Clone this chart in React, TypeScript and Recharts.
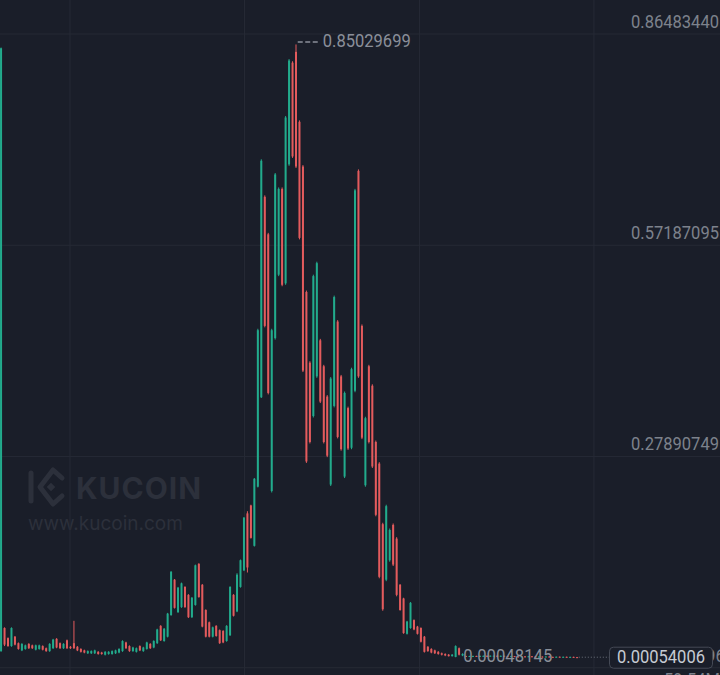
import React from 'react'
import { ComposedChart, Bar, XAxis, YAxis, CartesianGrid, ReferenceDot, ReferenceLine } from 'recharts'

// candles, oldest first
const openPrices = [
  0.009, 0.041, 0.027, 0.016, 0.029, 0.020, 0.010, 0.012, 0.019, 0.017,
  0.011, 0.012, 0.016, 0.013, 0.009, 0.013, 0.026, 0.020, 0.013, 0.024,
  0.015, 0.020, 0.015, 0.012, 0.010, 0.006, 0.006, 0.006, 0.008, 0.007,
  0.004, 0.005, 0.005, 0.006, 0.007, 0.009, 0.021, 0.016, 0.009, 0.008,
  0.016, 0.009, 0.012, 0.019, 0.014, 0.020, 0.044, 0.023, 0.029, 0.059,
  0.108, 0.063, 0.070, 0.098, 0.087, 0.056, 0.073, 0.130, 0.101, 0.066,
  0.049, 0.029, 0.044, 0.038, 0.037, 0.023, 0.031, 0.087, 0.064, 0.098,
  0.121, 0.200, 0.211, 0.155, 0.237, 0.361, 0.639, 0.587, 0.231, 0.443,
  0.531, 0.650, 0.519, 0.684, 0.825, 0.840, 0.743, 0.681, 0.507, 0.409,
  0.335, 0.390, 0.440, 0.404, 0.362, 0.240, 0.349, 0.466, 0.390, 0.251,
  0.346, 0.291, 0.370, 0.675, 0.460, 0.239, 0.404, 0.377, 0.299, 0.269,
  0.185, 0.108, 0.135, 0.184, 0.165, 0.101, 0.082, 0.033, 0.041, 0.052,
  0.043, 0.041, 0.029, 0.015, 0.012, 0.010, 0.008, 0.006, 0.005, 0.004,
  0.002, 0.0009, 0.013, 0.003, 0.0022, 0.0015, 0.0016, 0.0023, 0.0017, 0.0018,
  0.0025, 0.0019, 0.0020, 0.0026, 0.0020, 0.0025, 0.0019, 0.0014, 0.0020, 0.0015,
  0.0011, 0.0017, 0.0012, 0.0018, 0.0013, 0.0009, 0.0014, 0.0010, 0.0015, 0.0010,
  0.0007, 0.0012, 0.0008, 0.0011, 0.0007, 0.0010, 0.0006,
]
const closePrices = [
  0.845, 0.018, 0.016, 0.041, 0.018, 0.012, 0.019, 0.017, 0.013, 0.013,
  0.017, 0.017, 0.011, 0.009, 0.019, 0.025, 0.014, 0.013, 0.019, 0.013,
  0.013, 0.013, 0.010, 0.008, 0.007, 0.009, 0.009, 0.010, 0.005, 0.005,
  0.008, 0.008, 0.009, 0.010, 0.012, 0.023, 0.013, 0.009, 0.014, 0.013,
  0.010, 0.014, 0.021, 0.013, 0.023, 0.039, 0.024, 0.040, 0.061, 0.119,
  0.069, 0.097, 0.103, 0.070, 0.056, 0.083, 0.128, 0.084, 0.043, 0.029,
  0.029, 0.042, 0.030, 0.020, 0.021, 0.044, 0.098, 0.058, 0.115, 0.135,
  0.194, 0.125, 0.166, 0.248, 0.454, 0.689, 0.460, 0.367, 0.454, 0.670,
  0.650, 0.517, 0.749, 0.828, 0.695, 0.681, 0.582, 0.398, 0.272, 0.299,
  0.529, 0.547, 0.355, 0.299, 0.280, 0.387, 0.500, 0.306, 0.289, 0.367,
  0.290, 0.400, 0.648, 0.390, 0.305, 0.332, 0.299, 0.265, 0.198, 0.112,
  0.067, 0.210, 0.177, 0.129, 0.087, 0.066, 0.034, 0.050, 0.076, 0.039,
  0.033, 0.022, 0.008, 0.009, 0.007, 0.006, 0.005, 0.004, 0.003, 0.002,
  0.004, 0.016, 0.004, 0.005, 0.0016, 0.0022, 0.0023, 0.0017, 0.0024, 0.0025,
  0.0019, 0.0026, 0.0026, 0.0020, 0.0025, 0.0019, 0.0014, 0.0020, 0.0015, 0.0011,
  0.0017, 0.0012, 0.0018, 0.0013, 0.0009, 0.0014, 0.0010, 0.0015, 0.0010, 0.0007,
  0.0012, 0.0008, 0.0011, 0.0007, 0.0010, 0.0006, 0.00054006,
]
const highPrices = [
  0.846, 0.042, 0.028, 0.042, 0.030, 0.021, 0.020, 0.018, 0.020, 0.018,
  0.018, 0.018, 0.017, 0.014, 0.020, 0.026, 0.027, 0.021, 0.020, 0.025,
  0.016, 0.051, 0.016, 0.013, 0.011, 0.010, 0.010, 0.011, 0.009, 0.008,
  0.009, 0.009, 0.010, 0.011, 0.013, 0.024, 0.022, 0.017, 0.015, 0.014,
  0.017, 0.015, 0.022, 0.020, 0.024, 0.040, 0.045, 0.041, 0.062, 0.120,
  0.109, 0.098, 0.104, 0.099, 0.088, 0.084, 0.129, 0.131, 0.102, 0.067,
  0.050, 0.043, 0.045, 0.039, 0.038, 0.045, 0.099, 0.088, 0.117, 0.136,
  0.195, 0.203, 0.212, 0.249, 0.456, 0.691, 0.641, 0.589, 0.456, 0.672,
  0.652, 0.652, 0.751, 0.830, 0.827, 0.85029699, 0.745, 0.683, 0.509, 0.411,
  0.531, 0.549, 0.442, 0.406, 0.364, 0.389, 0.502, 0.468, 0.392, 0.369,
  0.348, 0.402, 0.650, 0.677, 0.462, 0.334, 0.406, 0.379, 0.301, 0.271,
  0.187, 0.212, 0.179, 0.186, 0.167, 0.102, 0.083, 0.051, 0.077, 0.053,
  0.044, 0.042, 0.030, 0.016, 0.013, 0.011, 0.009, 0.007, 0.006, 0.005,
  0.005, 0.017, 0.014, 0.006, 0.0025, 0.0025, 0.0026, 0.0026, 0.0027, 0.0028,
  0.0028, 0.0029, 0.0029, 0.0029, 0.0028, 0.0028, 0.0022, 0.0023, 0.0023, 0.0018,
  0.0020, 0.0020, 0.0021, 0.0021, 0.0016, 0.0017, 0.0017, 0.0018, 0.0018, 0.0013,
  0.0015, 0.0015, 0.0014, 0.0014, 0.0013, 0.0013, 0.0009,
]
const lowPrices = [
  0.008, 0.016, 0.015, 0.015, 0.017, 0.011, 0.009, 0.011, 0.012, 0.012,
  0.010, 0.011, 0.010, 0.008, 0.008, 0.012, 0.013, 0.012, 0.012, 0.012,
  0.012, 0.012, 0.009, 0.007, 0.006, 0.005, 0.005, 0.005, 0.004, 0.004,
  0.003, 0.004, 0.004, 0.005, 0.006, 0.008, 0.012, 0.008, 0.008, 0.007,
  0.009, 0.008, 0.011, 0.012, 0.013, 0.019, 0.023, 0.022, 0.028, 0.058,
  0.068, 0.062, 0.069, 0.069, 0.055, 0.055, 0.072, 0.083, 0.042, 0.028,
  0.028, 0.028, 0.029, 0.019, 0.020, 0.022, 0.030, 0.057, 0.063, 0.097,
  0.120, 0.118, 0.165, 0.154, 0.236, 0.360, 0.458, 0.365, 0.229, 0.441,
  0.529, 0.515, 0.517, 0.682, 0.693, 0.679, 0.580, 0.396, 0.270, 0.297,
  0.333, 0.388, 0.353, 0.297, 0.278, 0.238, 0.347, 0.304, 0.287, 0.249,
  0.288, 0.289, 0.368, 0.388, 0.303, 0.237, 0.297, 0.263, 0.196, 0.110,
  0.065, 0.106, 0.133, 0.127, 0.085, 0.065, 0.033, 0.032, 0.040, 0.038,
  0.032, 0.021, 0.007, 0.008, 0.006, 0.005, 0.004, 0.003, 0.002, 0.0015,
  0.0015, 0.00048145, 0.003, 0.002, 0.0013, 0.0012, 0.0013, 0.0014, 0.0014, 0.0015,
  0.0016, 0.0016, 0.0017, 0.0017, 0.0017, 0.0016, 0.0011, 0.0011, 0.0012, 0.0008,
  0.0008, 0.0009, 0.0009, 0.0010, 0.0006, 0.0006, 0.0007, 0.0007, 0.0007, 0.0005,
  0.0005, 0.0005, 0.0005, 0.0005, 0.0005, 0.0005, 0.0005,
]

const yTickValues = [0.8648344, 0.57187095, 0.27890749, -0.01405597]
const yTickLabels = ['0.86483440', '0.57187095', '0.27890749', '-0.01405596']
const xGridValues = [19.94, 70.23, 120.66, 170.95]
const highLabel = '0.85029699'
const lowLabel = '0.00048145'
const lastPriceLabel = '0.00054006'
const volumeLabel = '59.54M'

const data = openPrices.map((open, i) => ({
  i,
  open,
  close: closePrices[i],
  high: highPrices[i],
  low: lowPrices[i],
}))

const hiIdx = highPrices.indexOf(Math.max(...highPrices))
const loIdx = lowPrices.indexOf(Math.min(...lowPrices))
const lastIdx = data.length - 1

const BG = '#1a1e29'
const GRID = '#262a35'
const UP = '#22ab8c'
const DOWN = '#e35b5d'
const AXIS_TEXT = '#7d828c'
const FONT = 'Roboto, sans-serif'

const Candle = (props: any) => {
  const { x, y, width, height, payload } = props
  const { open, close, high, low } = payload
  const color = close >= open ? UP : DOWN
  const k = high > low ? height / (high - low) : 0
  const yO = y + (high - open) * k
  const yC = y + (high - close) * k
  const cx = x + width / 2
  return (
    <g>
      <rect x={cx - 0.5} y={y} width={1} height={Math.max(1, height)} fill={color} />
      <rect x={cx - 1} y={Math.min(yO, yC)} width={2} height={Math.max(1, Math.abs(yO - yC))} fill={color} />
    </g>
  )
}

// narrow digits like the exchange's font: squeeze Roboto into the measured width
const Num = ({ x, y, fill, width, children }: any) => (
  <text x={x} y={y} fill={fill} fontSize={19} fontFamily={FONT} textLength={width} lengthAdjust="spacingAndGlyphs">
    {children}
  </text>
)

export default function App() {
  return (
    <div style={{ position: 'absolute', left: 0, top: 0, width: 720, height: 675, background: BG, overflow: 'hidden' }}>
      {/* watermark */}
      <svg width={720} height={675} style={{ position: 'absolute', left: 0, top: 0 }}>
        <g fill="none" stroke="#2c303b" strokeWidth={5} strokeLinecap="round" strokeLinejoin="round">
          <line x1={31} y1={473} x2={31} y2={501} />
          <polyline points="62,478 53,470 40,487 53,504 62,496" />
        </g>
        <rect x={48} y={484} width={6} height={6} fill="#2c303b" transform="rotate(45 51 487)" />
        <text x={76} y={499} fill="#2c303b" fontSize={30} fontWeight={700} fontFamily="Inter, sans-serif" letterSpacing={1}>
          KUCOIN
        </text>
        <text x={28} y={530} fill="#2c303b" fontSize={19} fontFamily="Inter, sans-serif">
          www.kucoin.com
        </text>
      </svg>
      <div style={{ position: 'absolute', left: 0, top: 0 }}>
        <ComposedChart width={720} height={675} data={data} margin={{ top: 0, right: 0, bottom: 0, left: 0 }}>
          <CartesianGrid stroke={GRID} horizontalValues={yTickValues} verticalValues={xGridValues} />
          <XAxis dataKey="i" type="number" domain={[-0.23, 207.27]} ticks={xGridValues} hide allowDataOverflow />
          <YAxis hide domain={[-0.02413, 0.91193]} ticks={yTickValues} allowDataOverflow />
          {yTickValues.map((v, k) => (
            <ReferenceLine
              key={v}
              y={v}
              stroke="none"
              label={{
                content: (p: any) => (
                  <Num x={631} y={p.viewBox.y - 6} fill={AXIS_TEXT} width={k === 3 ? 94 : 88}>
                    {yTickLabels[k]}
                  </Num>
                ),
              }}
            />
          ))}
          <Bar dataKey={(d: any) => [d.low, d.high]} barSize={2} shape={<Candle />} isAnimationActive={false} />
          <ReferenceDot
            x={hiIdx}
            y={highPrices[hiIdx]}
            r={0}
            shape={(p: any) => (
              <g>
                <line x1={p.cx + 2} y1={p.cy - 2.5} x2={p.cx + 22} y2={p.cy - 2.5} stroke="#8a8f99" strokeWidth={1.5} strokeDasharray="5 2.5" />
                <Num x={p.cx + 27} y={p.cy + 3} fill="#8a8f99" width={88}>
                  {highLabel}
                </Num>
              </g>
            )}
          />
          <ReferenceDot
            x={loIdx}
            y={lowPrices[loIdx]}
            r={0}
            shape={(p: any) => (
              <Num x={p.cx + 8} y={p.cy + 4.5} fill="#8a8f99" width={89}>
                {lowLabel}
              </Num>
            )}
          />
          <ReferenceDot
            x={lastIdx}
            y={closePrices[lastIdx]}
            r={0}
            shape={(p: any) => (
              <g>
                <line x1={p.cx + 2} y1={p.cy} x2={609} y2={p.cy} stroke="#6b707b" strokeWidth={1} strokeDasharray="1 2" />
                <rect x={609.5} y={p.cy - 10} width={103} height={21} rx={4} fill={BG} stroke="#444955" />
                <Num x={617} y={p.cy + 5.5} fill="#c6cbd3" width={88}>
                  {lastPriceLabel}
                </Num>
              </g>
            )}
          />
        </ComposedChart>
      </div>
      <svg width={720} height={675} style={{ position: 'absolute', left: 0, top: 0, pointerEvents: 'none' }}>
        <Num x={664} y={686} fill={AXIS_TEXT} width={56}>
          {volumeLabel}
        </Num>
      </svg>
    </div>
  )
}
